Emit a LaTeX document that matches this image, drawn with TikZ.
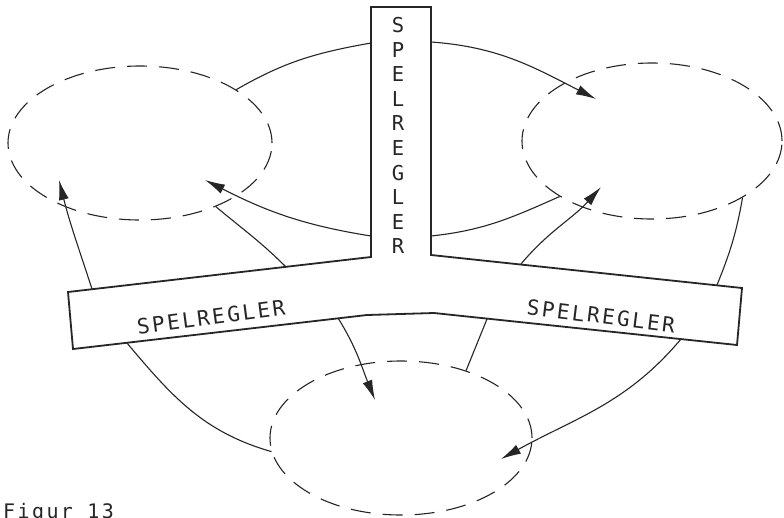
\documentclass[tikz,border=0pt]{standalone}
\usepackage{fontspec}
\newfontfamily\lab[LetterSpace=12]{DejaVu Sans Mono}
\newfontfamily\labv{DejaVu Sans Mono}
\usetikzlibrary{shapes.geometric,arrows.meta}
\begin{document}
\begin{tikzpicture}[x=1pt,y=1pt,
  ell/.style={ellipse, draw=black!85, line width=1.1pt, dash pattern=on 20pt off 12pt, inner sep=0pt},
  link/.style={draw=black!85, line width=1.1pt},
  arr/.style={link, -{Latex[length=20pt,width=10pt]}},
  tee/.style={draw=black!85, line width=1.8pt, line join=miter},
  lbl/.style={inner sep=0pt, text=black!85},
]
\useasboundingbox (0,0) rectangle (784,-517);
\fill[white] (0,0) rectangle (784,-517);

% the T-shaped board
\draw[tee] (371,-7) -- (431,-7) -- (431,-255) -- (742,-288) -- (737,-345)
  -- (434,-313) -- (367,-315) -- (73,-349) -- (68,-292) -- (371,-257) -- cycle;

% ellipses
\node[ell, minimum width=264pt, minimum height=154pt] (A) at (140,-143) {};
\node[ell, minimum width=260pt, minimum height=156pt] (B) at (652,-141) {};
\node[ell, minimum width=262pt, minimum height=154pt] (C) at (401,-438) {};

% texts
\node[lbl, font=\labv\fontsize{20.5}{24.6}\selectfont, align=center, anchor=north] (vt) at (398,-17) {S\\P\\E\\L\\R\\E\\G\\L\\E\\R};
\node[lbl, font=\lab\fontsize{21}{21}\selectfont, rotate=7.5] (lt) at (211,-317) {SPELREGLER};
\node[lbl, font=\lab\fontsize{21}{21}\selectfont, rotate=-7] (rt) at (601,-316) {SPELREGLER};
\node[lbl, font=\lab\fontsize{20}{20}\selectfont, anchor=base west] (fig) at (3,-518) {Figur 13};

% connector end points on the board
\coordinate (s1) at (371,-43);
\coordinate (s2) at (371,-236);
\coordinate (s3) at (431,-42);
\coordinate (s4) at (431,-236);
\coordinate (s5) at (521,-264);
\coordinate (s6) at (717,-285);
\coordinate (s7) at (286,-267);
\coordinate (s8) at (92,-289);
\coordinate (s9) at (127,-343);
\coordinate (s10) at (338,-318);
\coordinate (s11) at (487,-319);
\coordinate (s12) at (681,-339);
% arrow tips
\coordinate (t2) at (205,-180);
\coordinate (t3) at (596,-99);
\coordinate (t5) at (601,-187);
\coordinate (t8) at (59,-180);
\coordinate (t10) at (375,-400);
\coordinate (t12) at (501,-459);

% connectors
\draw[link] (s1) to[out=190,in=30] (A.29);
\draw[arr] (s2) to[out=171,in=-27] (t2);
\draw[arr] (s3) to[out=-4,in=153] (t3);
\draw[link] (s4) to[out=6,in=204] (B.211);
\draw[arr] (s5) to[out=50,in=228] (t5);
\draw[link] (s6) to[out=68,in=-100] (B.-32);
\draw[link] (s7) to[out=135,in=-40] (A.-40);
\draw[arr] (s8) to[out=108,in=-76] (t8);
\draw[link] (s9) to[out=-50,in=164] (C.186);
\draw[arr] (s10) to[out=-58,in=112] (t10);
\draw[link] (s11) -- (C.46);
\draw[arr] (s12) to[out=230,in=29] (t12);
\end{tikzpicture}
\end{document}
